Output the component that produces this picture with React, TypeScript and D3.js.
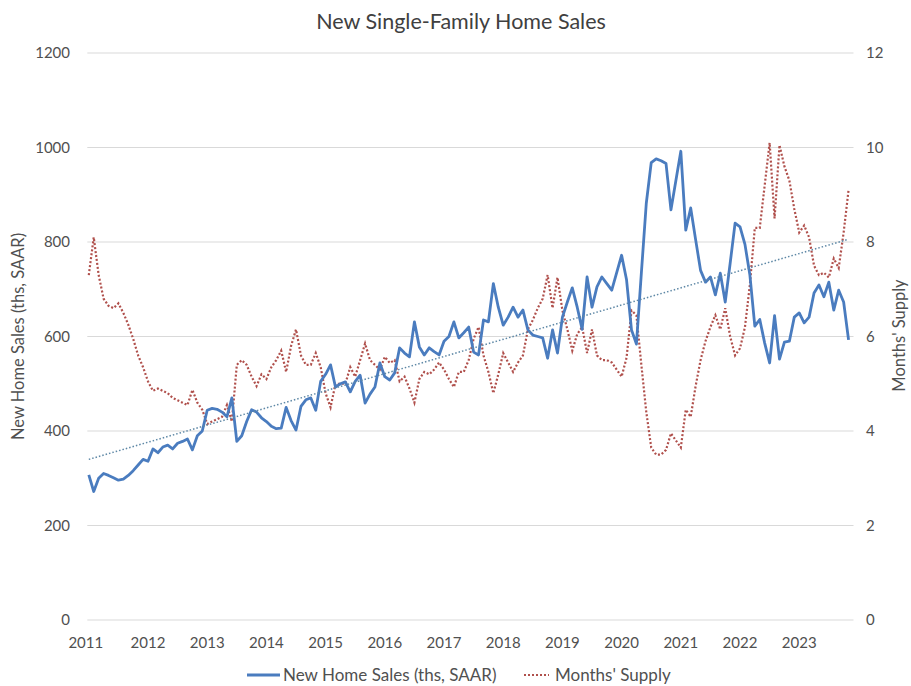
import React from 'react';
import * as d3 from 'd3';

// monthly, Jan 2011 .. Nov 2023
const yearLabels = ['2011', '2012', '2013', '2014', '2015', '2016', '2017', '2018', '2019', '2020', '2021', '2022', '2023'];
const leftTicks = [0, 200, 400, 600, 800, 1000, 1200];
const rightTicks = [0, 2, 4, 6, 8, 10, 12];

// New Home Sales (ths, SAAR)
const sales = [
  307, 272, 300, 310, 306, 301, 296, 298, 306, 316, 328, 340,
  336, 362, 354, 366, 370, 362, 374, 378, 383, 360, 390, 400,
  444, 448, 446, 440, 430, 470, 378, 390, 420, 445, 440, 428,
  420, 410, 405, 406, 450, 422, 402, 452, 466, 470, 444, 505,
  520, 540, 493, 500, 504, 483, 505, 518, 459, 478, 493, 544,
  515, 508, 523, 576, 565, 557, 631, 578, 561, 576, 568, 561,
  590, 600, 631, 597, 608, 620, 567, 561, 635, 631, 712, 662,
  624, 641, 662, 641, 656, 614, 603, 600, 597, 554, 614, 565,
  641, 673, 703, 662, 615, 726, 662, 705, 726, 712, 698, 735,
  772, 720, 614, 584, 734, 882, 968, 976, 972, 966, 868, 930,
  992, 825, 872, 805, 740, 715, 726, 688, 734, 673, 755, 840,
  832, 795, 730, 622, 636, 586, 544, 644, 552, 588, 590, 641,
  650, 629, 641, 692, 709, 684, 715, 656, 698, 673, 593,
];

// Months' Supply
const supply = [
  7.3, 8.1, 7.3, 6.8, 6.65, 6.6, 6.7, 6.5, 6.25, 5.95, 5.6, 5.35,
  5.05, 4.85, 4.9, 4.85, 4.8, 4.7, 4.65, 4.6, 4.55, 4.87, 4.6, 4.45,
  4.15, 4.2, 4.25, 4.3, 4.55, 4.2, 5.4, 5.5, 5.4, 5.15, 4.95, 5.2,
  5.1, 5.35, 5.5, 5.7, 5.25, 5.8, 6.15, 5.6, 5.4, 5.4, 5.65, 5.35,
  4.8, 4.5, 5.0, 5.0, 5.0, 5.35, 5.15, 5.5, 5.85, 5.5, 5.4, 5.3,
  5.57, 5.44, 5.5, 5.05, 5.15, 4.9, 4.6, 5.1, 5.25, 5.2, 5.3, 5.45,
  5.3, 5.1, 4.93, 5.25, 5.25, 5.5, 5.95, 6.2, 5.6, 5.25, 4.8, 5.2,
  5.65, 5.45, 5.25, 5.45, 5.6, 6.15, 6.35, 6.6, 6.8, 7.3, 6.6, 7.25,
  6.55, 6.15, 5.7, 6.05, 6.2, 5.65, 6.15, 5.6, 5.5, 5.5, 5.45, 5.3,
  5.15, 5.55, 6.55, 6.45, 5.4, 4.4, 3.65, 3.5, 3.5, 3.6, 3.95, 3.8,
  3.65, 4.45, 4.3, 4.95, 5.5, 5.9, 6.2, 6.45, 6.15, 6.6, 6.0, 5.6,
  5.75, 6.2, 7.1, 8.3, 8.3, 9.2, 10.1, 8.5, 10.05, 9.6, 9.3, 8.7,
  8.2, 8.35, 8.1, 7.5, 7.3, 7.35, 7.25, 7.65, 7.45, 8.2, 9.1,
];

const W = 911;
const H = 686;
const FONT = 'Lato, "Open Sans", sans-serif';
const BLUE = '#4A7CBF';
const RED = '#B0504C';
const TREND = '#5E88A6';
const GRID = '#D9D9D9';
const LABEL = '#505050';

export default function App() {
  const nCats = yearLabels.length * 12; // axis runs to Dec 2023
  const x = d3.scaleLinear().domain([0, nCats - 1]).range([88.8, 853.5]);
  const yL = d3.scaleLinear().domain([0, 1200]).range([620, 53]);
  const yR = d3.scaleLinear().domain([0, 12]).range([620, 53]);

  const salesLine = d3.line<number>().x((_, i) => x(i)).y((d) => yL(d))(sales) || '';
  const supplyLine = d3.line<number>().x((_, i) => x(i)).y((d) => yR(d))(supply) || '';

  // linear trend of sales
  const idx = sales.map((_, i) => i);
  const mx = d3.mean(idx) as number;
  const my = d3.mean(sales) as number;
  const slope =
    d3.sum(idx, (i) => (i - mx) * (sales[i] - my)) / d3.sum(idx, (i) => (i - mx) * (i - mx));
  const icpt = my - slope * mx;
  const last = sales.length - 1;

  return (
    <svg
      width={W}
      height={H}
      style={{ position: 'absolute', left: 0, top: 0, background: '#fff' }}
      fontFamily={FONT}
    >
      <rect x={0} y={0} width={W} height={H} fill="#fff" />
      <text x={461} y={29} textAnchor="middle" fontSize={21.5} fill="#404040">
        New Single-Family Home Sales
      </text>

      {/* gridlines */}
      {leftTicks.map((t) => (
        <line key={t} x1={x(0) - 1.5} x2={x(nCats - 1)} y1={yL(t)} y2={yL(t)} stroke={GRID} strokeWidth={1} />
      ))}

      {/* left ticks */}
      {leftTicks.map((t) => (
        <text key={'l' + t} x={70} y={yL(t) + 5} textAnchor="end" fontSize={15} fill={LABEL}>
          {t}
        </text>
      ))}
      {/* right ticks */}
      {rightTicks.map((t) => (
        <text key={'r' + t} x={866} y={yR(t) + 5} textAnchor="start" fontSize={15} fill={LABEL}>
          {t}
        </text>
      ))}
      {/* x labels */}
      {yearLabels.map((yr, k) => (
        <text key={yr} x={x(k * 12) - (k === 0 ? 3 : 0)} y={648} textAnchor="middle" fontSize={15} fill={LABEL}>
          {yr}
        </text>
      ))}

      <text
        transform={`translate(24, ${yL(600)}) rotate(-90)`}
        textAnchor="middle"
        fontSize={16.5}
        fill={LABEL}
      >
        New Home Sales (ths, SAAR)
      </text>
      <text
        transform={`translate(905, ${yR(6) - 1}) rotate(-90)`}
        textAnchor="middle"
        fontSize={16.5}
        fill={LABEL}
      >
        Months' Supply
      </text>

      {/* series */}
      <path d={supplyLine} fill="none" stroke={RED} strokeWidth={2.2} strokeDasharray="2 2" />
      <path d={salesLine} fill="none" stroke={BLUE} strokeWidth={2.8} strokeLinejoin="round" />
      <line
        x1={x(0)}
        x2={x(last)}
        y1={yL(icpt)}
        y2={yL(icpt + slope * last)}
        stroke={TREND}
        strokeWidth={1.5}
        strokeDasharray="1.5 2"
      />

      {/* legend */}
      <line x1={247} x2={280} y1={675} y2={675} stroke={BLUE} strokeWidth={2.8} />
      <text x={283} y={681} fontSize={17} fill={LABEL}>
        New Home Sales (ths, SAAR)
      </text>
      <line x1={524} x2={549} y1={675} y2={675} stroke={RED} strokeWidth={2.2} strokeDasharray="2 2" />
      <text x={555} y={681} fontSize={17} fill={LABEL}>
        Months' Supply
      </text>
    </svg>
  );
}
